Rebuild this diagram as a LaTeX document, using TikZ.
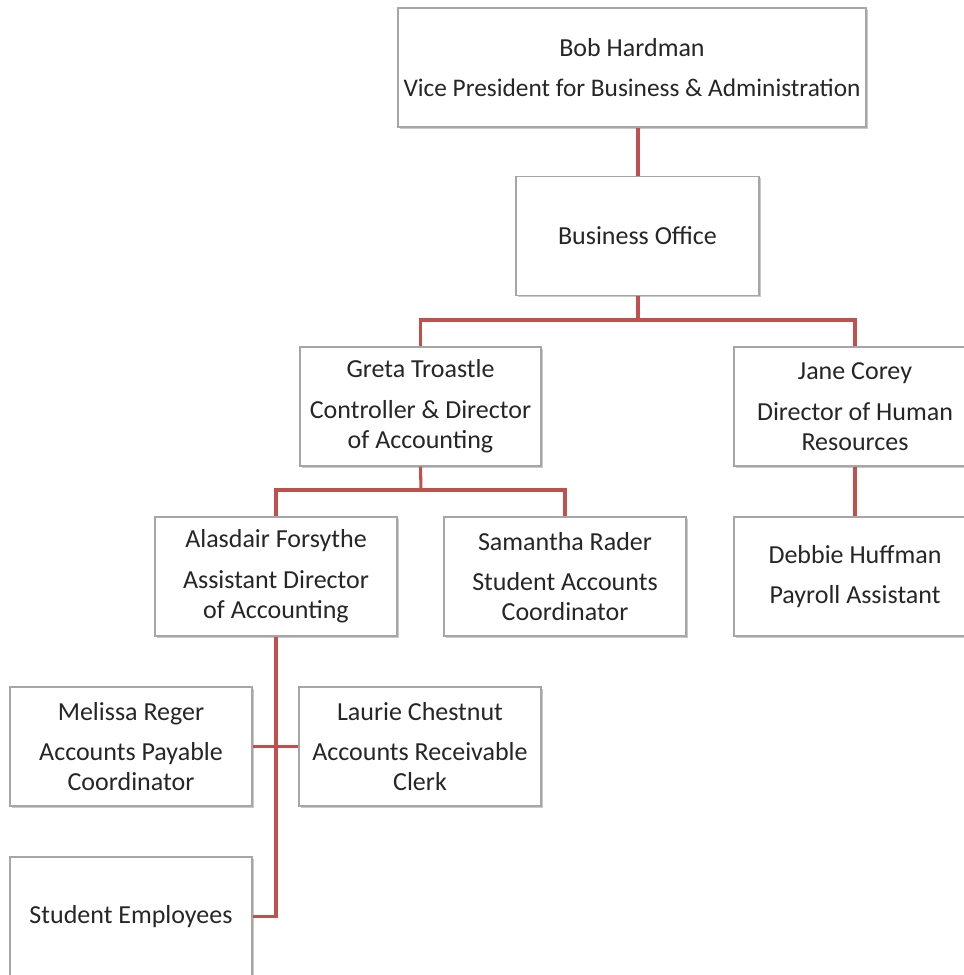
\documentclass[tikz,border=0pt]{standalone}
\usepackage{fontspec}
\setmainfont{Carlito}
\usetikzlibrary{shadows}
\definecolor{linkred}{HTML}{C0504D}
\definecolor{boxline}{HTML}{A6A6A6}
\definecolor{txt}{HTML}{262626}
\begin{document}
\begin{tikzpicture}[x=0.75pt,y=-0.75pt,
  orgbox/.style={draw=boxline, line width=0.9pt, fill=white, rectangle,
    minimum width=#1*0.75pt, minimum height=119*0.75pt, inner sep=0pt,
    align=center, text=txt, font=\fontsize{19.5}{22.5}\selectfont,
    drop shadow={shadow xshift=1.2pt, shadow yshift=-1.2pt, opacity=0.35, fill=black!60}},
  orgbox/.default=242,
  link/.style={draw=linkred, line width=2.3pt}]
\useasboundingbox (0,0) rectangle (964,975);
\fill[white] (0,0) rectangle (964,975);

\node[orgbox=468] (bob) at (632,67.5) {Bob Hardman\\[8pt]{\fontsize{19}{22.5}\selectfont Vice President for Business \& Administration}};
\node[orgbox=243] (bo) at (637.5,236) {Business Office};
\node[orgbox=241] (greta) at (420.5,406.5) {Greta Troastle\\[8pt]Controller \& Director\\of Accounting};
\node[orgbox] (jane) at (855,406.5) {Jane Corey\\[8pt]Director of Human\\Resources};
\node[orgbox] (alas) at (276,576.5) {Alasdair Forsythe\\[8pt]Assistant Director\\of Accounting};
\node[orgbox] (sam) at (565,576.5) {Samantha Rader\\[8pt]Student Accounts\\Coordinator};
\node[orgbox] (deb) at (855,576.5) {Debbie Huffman\\[8pt]Payroll Assistant};
\node[orgbox] (mel) at (131,746.5) {Melissa Reger\\[8pt]Accounts Payable\\Coordinator};
\node[orgbox] (laur) at (420,746.5) {Laurie Chestnut\\[8pt]Accounts Receivable\\Clerk};
\node[orgbox] (stud) at (131,916.5) {Student Employees};

\coordinate (bus1) at (638,320);
\coordinate (bus2) at (421,490);

\draw[link] (bo.north -| bus1) -- (bob.south -| bus1);
\draw[link] (bo.south -| bus1) -- (bus1);
\draw[link] (greta.north) |- (bus1) -| (jane.north);
\draw[link] (greta.south) -- (bus2);
\draw[link] (alas.north) |- (bus2) -| (sam.north);
\draw[link] (jane.south) -- (deb.north);
\draw[link] (alas.south) |- (stud.east);
\draw[link] (mel.east) -- (laur.west);
\end{tikzpicture}
\end{document}
